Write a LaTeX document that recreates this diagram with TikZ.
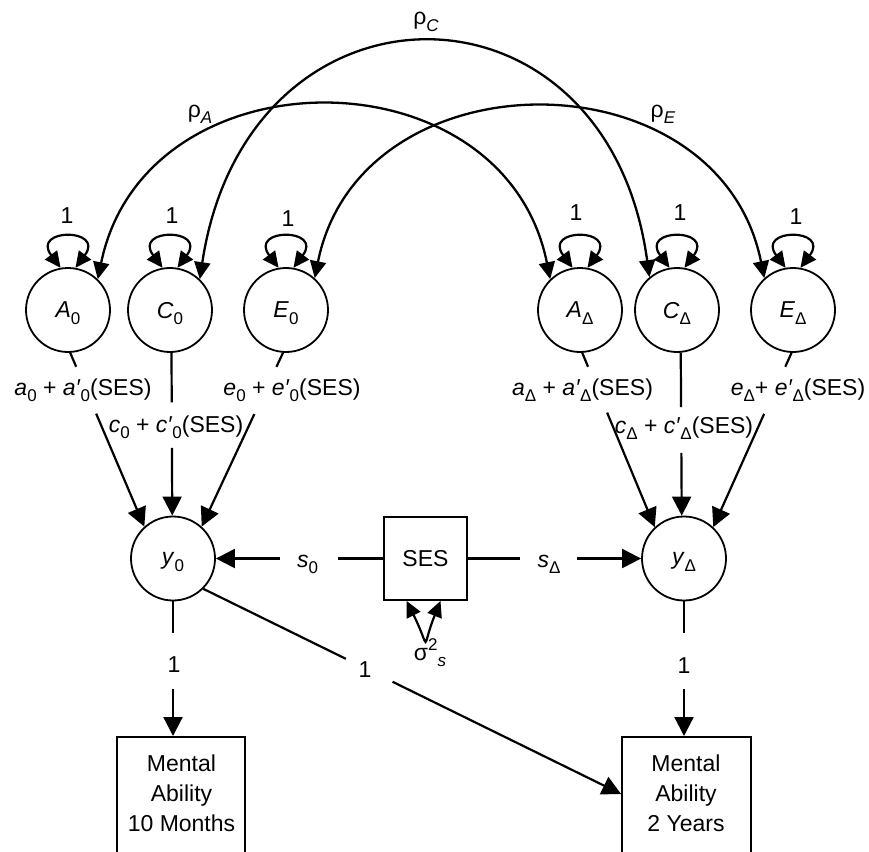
\documentclass[tikz,border=0pt]{standalone}
\usepackage{fontspec}
\setmainfont{Liberation Sans}
\usetikzlibrary{arrows.meta}
\newcommand\sbs[1]{\raisebox{-0.3em}{\fontsize{17}{17}\selectfont #1}}
\newcommand\sps[1]{\raisebox{0.42em}{\fontsize{17}{17}\selectfont #1}}
\begin{document}
\begin{tikzpicture}[x=1pt,y=-1pt, line width=2.2pt,
  font=\fontsize{23}{30}\selectfont,
  lat/.style={circle, draw, line width=1.8pt, minimum size=84pt, inner sep=0pt, text depth=0pt},
  obs/.style={rectangle, draw, line width=1.8pt, inner sep=0pt},
  arrowto/.style={-{Triangle[length=19pt,width=19pt]}},
  arcline/.style={{Triangle[length=17pt,width=16pt]}-{Triangle[length=17pt,width=16pt]}, line width=2.3pt},
  loopline/.style={{Triangle[length=16pt,width=15pt]}-{Triangle[length=16pt,width=15pt]}},
  lab/.style={inner sep=0pt, anchor=base}
]
\useasboundingbox (0,0) rectangle (869,851);
\clip (0,0) rectangle (869,851);

% latent variables
\node[lat] (A0) at (68,310) {\textit{A}\sbs{0}};
\node[lat] (C0) at (170,310) {\textit{C}\sbs{0}};
\node[lat] (E0) at (286,310) {\textit{E}\sbs{0}};
\node[lat] (AD) at (580,310) {\textit{A}\sbs{Δ}};
\node[lat] (CD) at (677,310) {\textit{C}\sbs{Δ}};
\node[lat] (ED) at (793,310) {\textit{E}\sbs{Δ}};
\node[lat] (y0) at (173,558.5) {\textit{y}\sbs{0}};
\node[lat] (yD) at (684,558.5) {\textit{y}\sbs{Δ}};

% observed
\node[obs, minimum width=83pt, minimum height=83pt] (SES) at (425.5,558.5) {SES};
\node[obs, minimum width=128pt, minimum height=170pt, anchor=north] (ML) at (181,736) {};
\node[obs, minimum width=129pt, minimum height=170pt, anchor=north] (MR) at (686.5,736) {};
\node[align=center, inner sep=0pt] (MLt) at (181.5,793) {Mental\\Ability\\10 Months};
\node[align=center, inner sep=0pt] (MRt) at (686,793) {Mental\\Ability\\2 Years};

% variance self-loops
\foreach \n in {A0,C0,E0,AD,CD,ED}
  \draw[loopline] (\n.100) .. controls +(-30,-40) and +(30,-40) .. (\n.80);
\node[lab] (lA0) at (67,223) {1};
\node[lab] (lC0) at (172,223) {1};
\node[lab] (lE0) at (288,226) {1};
\node[lab] (lAD) at (576,220) {1};
\node[lab] (lCD) at (680,220) {1};
\node[lab] (lED) at (796,224) {1};

\draw[loopline] ([xshift=-19pt]SES.south) .. controls +(25,50) and +(-20,50) .. ([xshift=15pt]SES.south);
\node[lab] (sig) at (430,660) {σ\sps{2}\sbs{\textit{s}}};

% correlations
\draw[arcline] (A0.46) .. controls (145,49) and (504,49) .. (AD.134);
\draw[arcline] (C0.46) .. controls (247,-35) and (607,-35) .. (CD.130);
\draw[arcline] (E0.48) .. controls (360,52) and (719,52) .. (ED.132);
\node[lab] (rC) at (426,25) {ρ\sbs{\textit{C}}};
\node[lab] (rA) at (200,117) {ρ\sbs{\textit{A}}};
\node[lab] (rE) at (663,117) {ρ\sbs{\textit{E}}};

% paths to y0
\path (A0.-87) -- (y0.132) coordinate[pos=0.08] (pa1) coordinate[pos=0.35] (pa2);
\draw (A0.-87) -- (pa1); \draw[arrowto] (pa2) -- (y0.132);
\path (C0.-88) -- (y0.91) coordinate[pos=0.304] (pc1) coordinate[pos=0.584] (pc2);
\draw (C0.-88) -- (pc1); \draw[arrowto] (pc2) -- (y0.91);
\path (E0.-94) -- (y0.48) coordinate[pos=0.081] (pe1) coordinate[pos=0.353] (pe2);
\draw (E0.-94) -- (pe1); \draw[arrowto] (pe2) -- (y0.48);
\node[lab] (la0) at (83,395) {\textit{a}\sbs{0} + \textit{a′}\sbs{0}(SES)};
\node[lab] (lc0) at (176,432) {\textit{c}\sbs{0} + \textit{c′}\sbs{0}(SES)};
\node[lab] (le0) at (292,395) {\textit{e}\sbs{0} + \textit{e′}\sbs{0}(SES)};

% paths to yD
\path (AD.-87) -- (yD.133) coordinate[pos=0.08] (qa1) coordinate[pos=0.343] (qa2);
\draw (AD.-87) -- (qa1); \draw[arrowto] (qa2) -- (yD.133);
\path (CD.-85) -- (yD.93) coordinate[pos=0.334] (qc1) coordinate[pos=0.614] (qc2);
\draw (CD.-85) -- (qc1); \draw[arrowto] (qc2) -- (yD.93);
\path (ED.-92) -- (yD.47) coordinate[pos=0.08] (qe1) coordinate[pos=0.35] (qe2);
\draw (ED.-92) -- (qe1); \draw[arrowto] (qe2) -- (yD.47);
\node[lab] (laD) at (582.5,395) {\textit{a}\sbs{Δ} + \textit{a′}\sbs{Δ}(SES)};
\node[lab] (lcD) at (684,433) {\textit{c}\sbs{Δ} + \textit{c′}\sbs{Δ}(SES)};
\node[lab] (leD) at (798,395) {\textit{e}\sbs{Δ}+ \textit{e′}\sbs{Δ}(SES)};

% SES paths
\path (SES.west) -- (y0.east) coordinate[pos=0.272] (s1) coordinate[pos=0.615] (s2);
\draw (SES.west) -- (s1); \draw[arrowto] (s2) -- (y0.east);
\path (SES.east) -- (yD.west) coordinate[pos=0.303] (t1) coordinate[pos=0.629] (t2);
\draw (SES.east) -- (t1); \draw[arrowto] (t2) -- (yD.west);
\node[lab] (ls0) at (307.5,567) {\textit{s}\sbs{0}};
\node[lab] (lsD) at (549,567) {\textit{s}\sbs{Δ}};

% measurement paths
\path (y0.south) -- (y0.south |- ML.north) coordinate[pos=0.235] (m1) coordinate[pos=0.654] (m2);
\draw (y0.south) -- (m1); \draw[arrowto] (m2) -- (y0.south |- ML.north);
\path (yD.south) -- (yD.south |- MR.north) coordinate[pos=0.235] (n1) coordinate[pos=0.654] (n2);
\draw (yD.south) -- (n1); \draw[arrowto] (n2) -- (yD.south |- MR.north);
\coordinate (tipR) at ([yshift=-58pt]MR.north west);
\path (y0.-45) -- (tipR) coordinate[pos=0.341] (d1) coordinate[pos=0.453] (d2);
\draw (y0.-45) -- (d1); \draw[arrowto] (d2) -- (tipR);
\node[lab] (l1a) at (174,672) {1};
\node[lab] (l1b) at (684,673) {1};
\node[lab] (l1c) at (365,677) {1};
\end{tikzpicture}
\end{document}
